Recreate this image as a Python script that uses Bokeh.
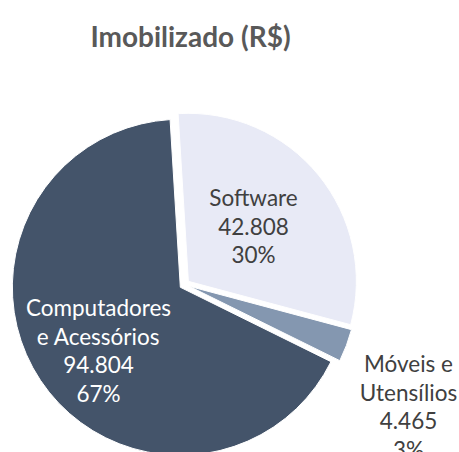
import math
from bokeh.plotting import figure
from bokeh.models import Range1d
from bokeh.core.properties import value
from bokeh.embed import file_html
from bokeh.resources import INLINE

# ---- data ----
categories = ["Software", "Móveis e\nUtensílios", "Computadores\ne Acessórios"]
values = [42808, 4465, 94804]
colors = ["#E8EAF6", "#8497B0", "#44546A"]
label_colors = ["#404040", "#404040", "#FFFFFF"]
title_text = "Imobilizado (R$)"

# ---- layout (image pixel coords, y downward) ----
W, H = 459, 452
CX, CY = 184, 284          # pie centre
R = 168                    # radius
EXPLODE = 5                # explosion offset
START = 93.5               # first slice angle (deg, math convention)
label_anchor = [(253, 197), (408, 363), (98, 307)]   # centre x, first baseline
LINE_H = 28.5
FONT = "Lato"

p = figure(width=W, height=H, output_backend="svg", toolbar_location=None,
           x_range=Range1d(0, W), y_range=Range1d(0, H),
           min_border=0, outline_line_color=None)
p.axis.visible = False
p.grid.visible = False
p.background_fill_color = "white"
p.border_fill_color = "white"

def dy(img_y):
    return H - img_y

total = float(sum(values))
cum = 0.0
for i, v in enumerate(values):
    a0 = START - cum / total * 360.0
    cum += v
    a1 = START - cum / total * 360.0
    mid = math.radians((a0 + a1) / 2.0)
    x = CX + EXPLODE * math.cos(mid)
    y = dy(CY) + EXPLODE * math.sin(mid)
    p.wedge(x=[x], y=[y], radius=R, start_angle=[math.radians(a1)],
            end_angle=[math.radians(a0)], direction="anticlock",
            fill_color=colors[i], line_color="white", line_width=1)

    pct = round(v / total * 100)
    num = f"{v:,}".replace(",", ".")
    lines = categories[i].split("\n") + [num, f"{pct}%"]
    lx, ly = label_anchor[i]
    for k, t in enumerate(lines):
        p.text(x=[lx], y=[dy(ly + k * LINE_H)], text=[t],
               text_font=value(FONT), text_font_size="22.5px",
               text_color=label_colors[i], text_align="center",
               text_baseline="alphabetic")

p.text(x=[190], y=[dy(35)], text=[title_text], text_font=value(FONT),
       text_font_size="28px", text_font_style="bold", text_color="#595959",
       text_align="center", text_baseline="alphabetic")

open("out.html", "w").write(file_html(p, INLINE))
